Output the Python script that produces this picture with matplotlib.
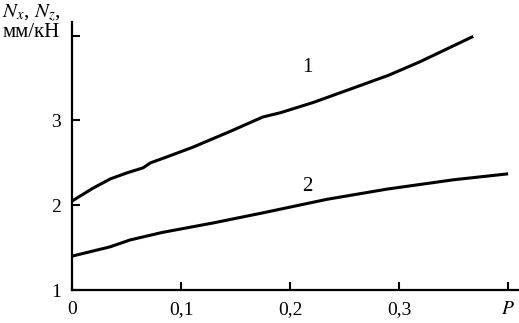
import matplotlib.pyplot as plt

plt.rcParams['font.family'] = 'Liberation Serif'
plt.rcParams['mathtext.fontset'] = 'stix'

# curve 1
p1 = [0.0, 0.019, 0.035, 0.050, 0.065, 0.072, 0.087, 0.110, 0.145, 0.175, 0.191,
      0.221, 0.262, 0.290, 0.319, 0.368]
n1 = [2.05, 2.20, 2.31, 2.38, 2.44, 2.50, 2.57, 2.68, 2.87, 3.04, 3.09,
      3.21, 3.40, 3.53, 3.69, 3.99]

# curve 2
p2 = [0.0, 0.035, 0.053, 0.083, 0.129, 0.175, 0.234, 0.289, 0.350, 0.400]
n2 = [1.40, 1.51, 1.59, 1.68, 1.79, 1.91, 2.07, 2.19, 2.30, 2.37]

xticks = [0, 0.1, 0.2, 0.3, 0.4]
xlabels = ['0', '0,1', '0,2', '0,3', '$P$']
yticks = [1, 2, 3, 4]
ylabels = ['1', '2', '3', '']

fig = plt.figure(figsize=(5.19, 3.23), dpi=100)
ax = fig.add_axes([0.139, 0.102, 0.861, 0.83])

ax.plot(p1, n1, color='black', lw=2.2, solid_capstyle='butt')
ax.plot(p2, n2, color='black', lw=2.2, solid_capstyle='butt')

ax.text(0.216, 3.62, '1', fontsize=15, ha='center', va='center')
ax.text(0.216, 2.22, '2', fontsize=15, ha='center', va='center')

ax.set_xlim(0, 0.41)
ax.set_ylim(1, 4.16)
ax.set_xticks(xticks)
ax.set_xticklabels(xlabels)
ax.set_yticks(yticks)
ax.set_yticklabels(ylabels)
ax.tick_params(direction='in', length=6, width=1.5, labelsize=14, pad=8)

for s in ['top', 'right']:
    ax.spines[s].set_visible(False)
for s in ['left', 'bottom']:
    ax.spines[s].set_linewidth(1.6)

fig.text(0.004, 0.945, '$N_x$, $N_z$,', fontsize=15, ha='left', va='baseline')
fig.text(0.004, 0.885, 'мм/кН', fontsize=15, ha='left', va='baseline')

fig.savefig('out.png', dpi=100)
